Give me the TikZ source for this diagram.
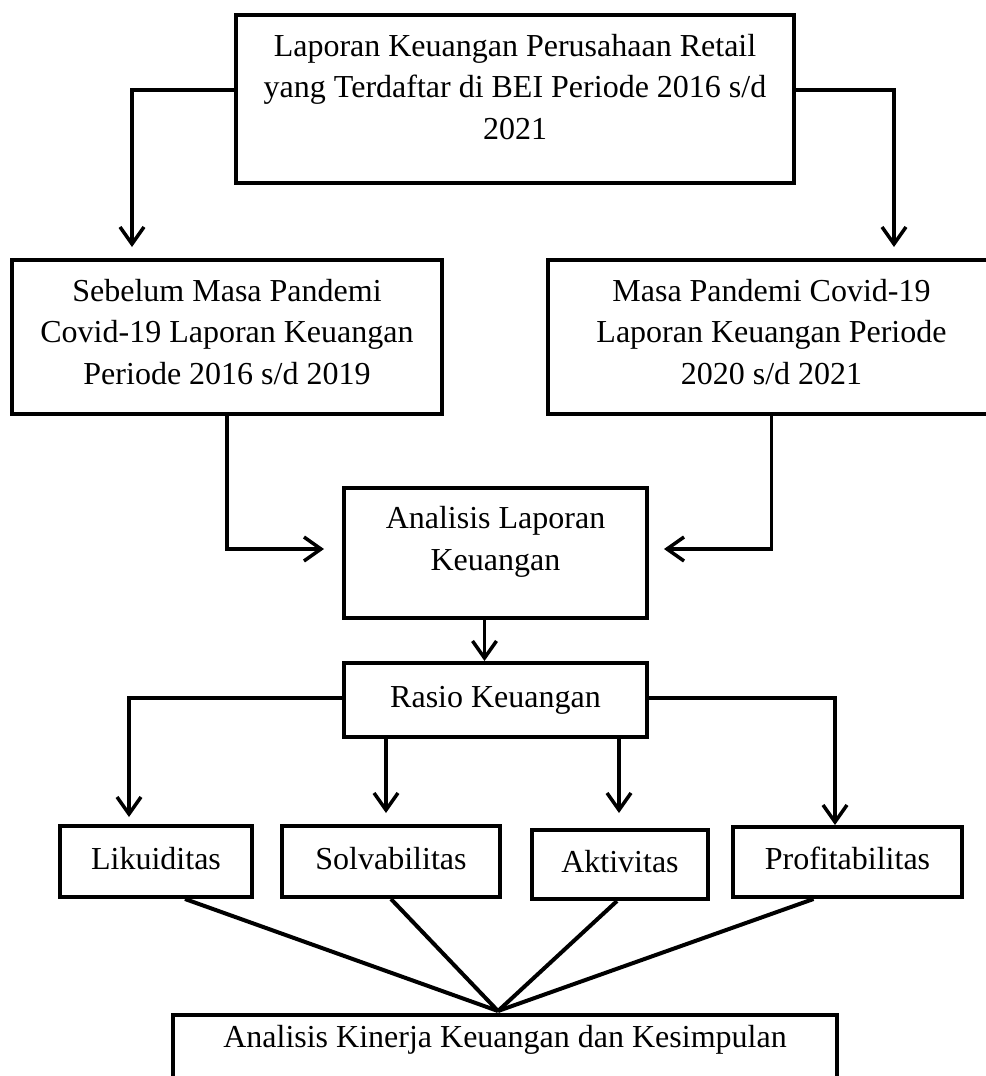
\documentclass[tikz,border=0pt]{standalone}
\usepackage{fontspec}
\setmainfont{Liberation Serif}
\usetikzlibrary{arrows.meta,calc}

\tikzset{
  box/.style={draw, line width=4pt, align=center, inner sep=0pt,
    font=\fontsize{32}{41.5}\selectfont},
  one/.style={text height=22pt, text depth=7pt},
  arr/.style={line width=3.5pt, -{Straight Barb[length=17pt,width=24pt]}},
  link/.style={line width=4pt},
}

\begin{document}
\begin{tikzpicture}[x=1pt,y=-1pt]
    \useasboundingbox (0,0) rectangle (985,1076);
    \node[box, minimum width=558pt, minimum height=168pt, text height=105pt, text depth=25pt] (lap) at (515,99) {Laporan Keuangan Perusahaan Retail\\yang Terdaftar di BEI Periode 2016 s/d\\2021};
    \node[box, minimum width=430pt, minimum height=154pt, text height=105pt, text depth=11pt] (pre) at (227,337) {Sebelum Masa Pandemi\\Covid-19 Laporan Keuangan\\Periode 2016 s/d 2019};
    \node[box, minimum width=447pt, minimum height=154pt, text height=105pt, text depth=11pt] (pan) at (771.5,337) {Masa Pandemi Covid-19\\Laporan Keuangan Periode\\2020 s/d 2021};
    \node[box, minimum width=303pt, minimum height=130pt, text height=64pt, text depth=30pt] (ana) at (495.5,553) {Analisis Laporan\\Keuangan};
    \node[box, one, minimum width=303pt, minimum height=74pt] (rasio) at (495.5,700) {Rasio Keuangan};
    \node[box, one, minimum width=192pt, minimum height=71pt] (lik) at (156,861.5) {Likuiditas};
    \node[box, one, minimum width=218pt, minimum height=71pt] (sol) at (391,861.5) {Solvabilitas};
    \node[box, one, minimum width=176pt, minimum height=69pt] (akt) at (620,864.5) {Aktivitas};
    \node[box, one, minimum width=229pt, minimum height=70pt] (pro) at (847.5,862) {Profitabilitas};
    \node[box, anchor=north, minimum width=664pt, inner ysep=10pt, text height=22pt, text depth=80pt] (kin) at (505,1013) {Analisis Kinerja Keuangan dan Kesimpulan};

    % dari laporan ke dua periode
    \coordinate (tA) at (132,247);
    \coordinate (tB) at (894,247);
    \draw[arr] ([yshift=9pt]lap.west) -| (tA);
    \draw[arr] ([yshift=9pt]lap.east) -| (tB);

    % ke analisis laporan
    \coordinate (tC) at (324,549);
    \coordinate (tD) at (664,549);
    \draw[arr] (pre.south) |- (tC);
    \draw[arr] (pan.south) |- (tD);
    \draw[arr] ([xshift=-11pt]ana.south) -- ([xshift=-11pt]rasio.north);

    % rasio keuangan
    \coordinate (tE) at (129,817);
    \coordinate (tF) at (386,813);
    \coordinate (tG) at (619,813);
    \draw[arr] ([yshift=2pt]rasio.west) -| (tE);
    \draw[arr] (rasio.south -| tF) -- (tF);
    \draw[arr] (rasio.south -| tG) -- (tG);
    \draw[arr] ([yshift=2pt]rasio.east) -| ([xshift=-12.5pt]pro.north);

    % ke kesimpulan
    \coordinate (meet) at (498,1011);
    \draw[link] ([xshift=29pt]lik.south) -- (meet);
    \draw[link] (sol.south) -- (meet);
    \draw[link] ([xshift=-3pt]akt.south) -- (meet);
    \draw[link] ([xshift=-34pt]pro.south) -- (meet);
\end{tikzpicture}
\end{document}
